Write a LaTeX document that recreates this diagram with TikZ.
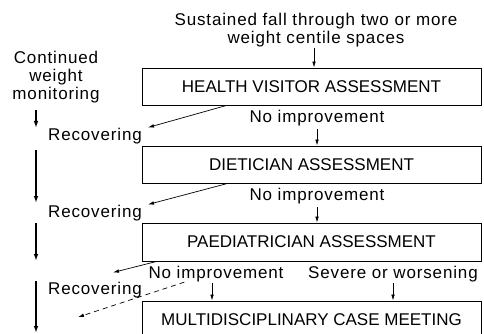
\documentclass[tikz,border=0pt]{standalone}
\usepackage{fontspec}
\setmainfont{Liberation Sans}
\newfontfamily\trk[LetterSpace=5.0]{Liberation Sans}
\usetikzlibrary{arrows.meta,calc}
\begin{document}
\begin{tikzpicture}[x=1pt,y=-1pt,
  box/.style={draw,line width=0.9pt,minimum width=339pt,inner sep=0pt,font=\fontsize{17}{18}\selectfont},
  lbl/.style={inner sep=0pt,anchor=base,align=center,font=\trk\fontsize{17}{18}\selectfont},
  arr/.style={line width=0.7pt,-{Latex[length=6pt,width=3.6pt]}},
  bigarr/.style={line width=1.6pt,-{Latex[length=7pt,width=4.6pt]}},
  dasharr/.style={arr,dash pattern=on 5pt off 4pt}]
\useasboundingbox (0,0) rectangle (484,334);
\clip (0,0) rectangle (484,334);
% boxes
\node[box,minimum height=37pt] (hv) at (311.5,86.5) {HEALTH VISITOR ASSESSMENT};
\node[box,minimum height=37pt] (di) at (311.5,164.5) {DIETICIAN ASSESSMENT};
\node[box,minimum height=38pt] (pa) at (311.5,242) {PAEDIATRICIAN ASSESSMENT};
\node[box,minimum height=38pt] (mc) at (311.5,320) {MULTIDISCIPLINARY CASE MEETING};
% labels (multi-line nodes: base = last line's baseline)
\node[lbl] (top) at (316,43.3) {Sustained fall through two or more\\weight centile spaces};
\node[lbl] (cwm) at (56,99.3) {Continued\\weight\\monitoring};
\node[lbl] (ni1) at (317,122.7) {No improvement};
\node[lbl] (ni2) at (317,200.5) {No improvement};
\node[lbl] (ni3) at (216,278) {No improvement};
\node[lbl] (sw) at (393,278) {Severe or worsening};
\node[lbl] (rc1) at (95,140) {Recovering};
\node[lbl] (rc2) at (95,217) {Recovering};
\node[lbl] (rc3) at (95,294) {Recovering};
% vertical arrows
\draw[arr] ($(top.south)+(-2,1)$) coordinate (ts) -- (hv.north -| ts);
\draw[arr] ($(ni1.south)+(0,2.5)$) -- (di.north -| ni1.south);
\draw[arr] ($(ni2.south)+(0,3)$) -- (pa.north -| ni2.south);
\coordinate (n3s) at ($(ni3.south)+(-4,1.5)$);
\draw[arr] (n3s) -- (mc.north -| n3s);
\draw[arr] ($(sw.south)+(0,1.5)$) -- (mc.north -| sw.south);
% left monitoring arrows
\coordinate (l1a) at (36,110); \coordinate (l1b) at (36,128);
\coordinate (l2a) at (36,150); \coordinate (l2b) at (36,203);
\coordinate (l3a) at (36,223); \coordinate (l3b) at (36,261);
\coordinate (l4a) at (36,281); \coordinate (l4b) at (36,333);
\draw[bigarr] (l1a) -- (l1b);
\draw[bigarr] (l2a) -- (l2b);
\draw[bigarr] (l3a) -- (l3b);
\draw[bigarr] (l4a) -- (l4b);
% recovering arrows
\draw[arr] ($(hv.south west)+(85,0)$) -- ($(rc1.north east)+(6,0)$);
\draw[arr] ($(di.south west)+(86,0)$) -- ($(rc2.north east)+(6,0)$);
\draw[arr] ($(pa.south west)+(15,0)$) -- ($(rc3.north east)+(-29,-9)$);
\draw[dasharr] ($(ni3.south west)+(36,0.4)$) -- ($(rc3.south west)+(30,19.4)$);
\end{tikzpicture}
\end{document}
